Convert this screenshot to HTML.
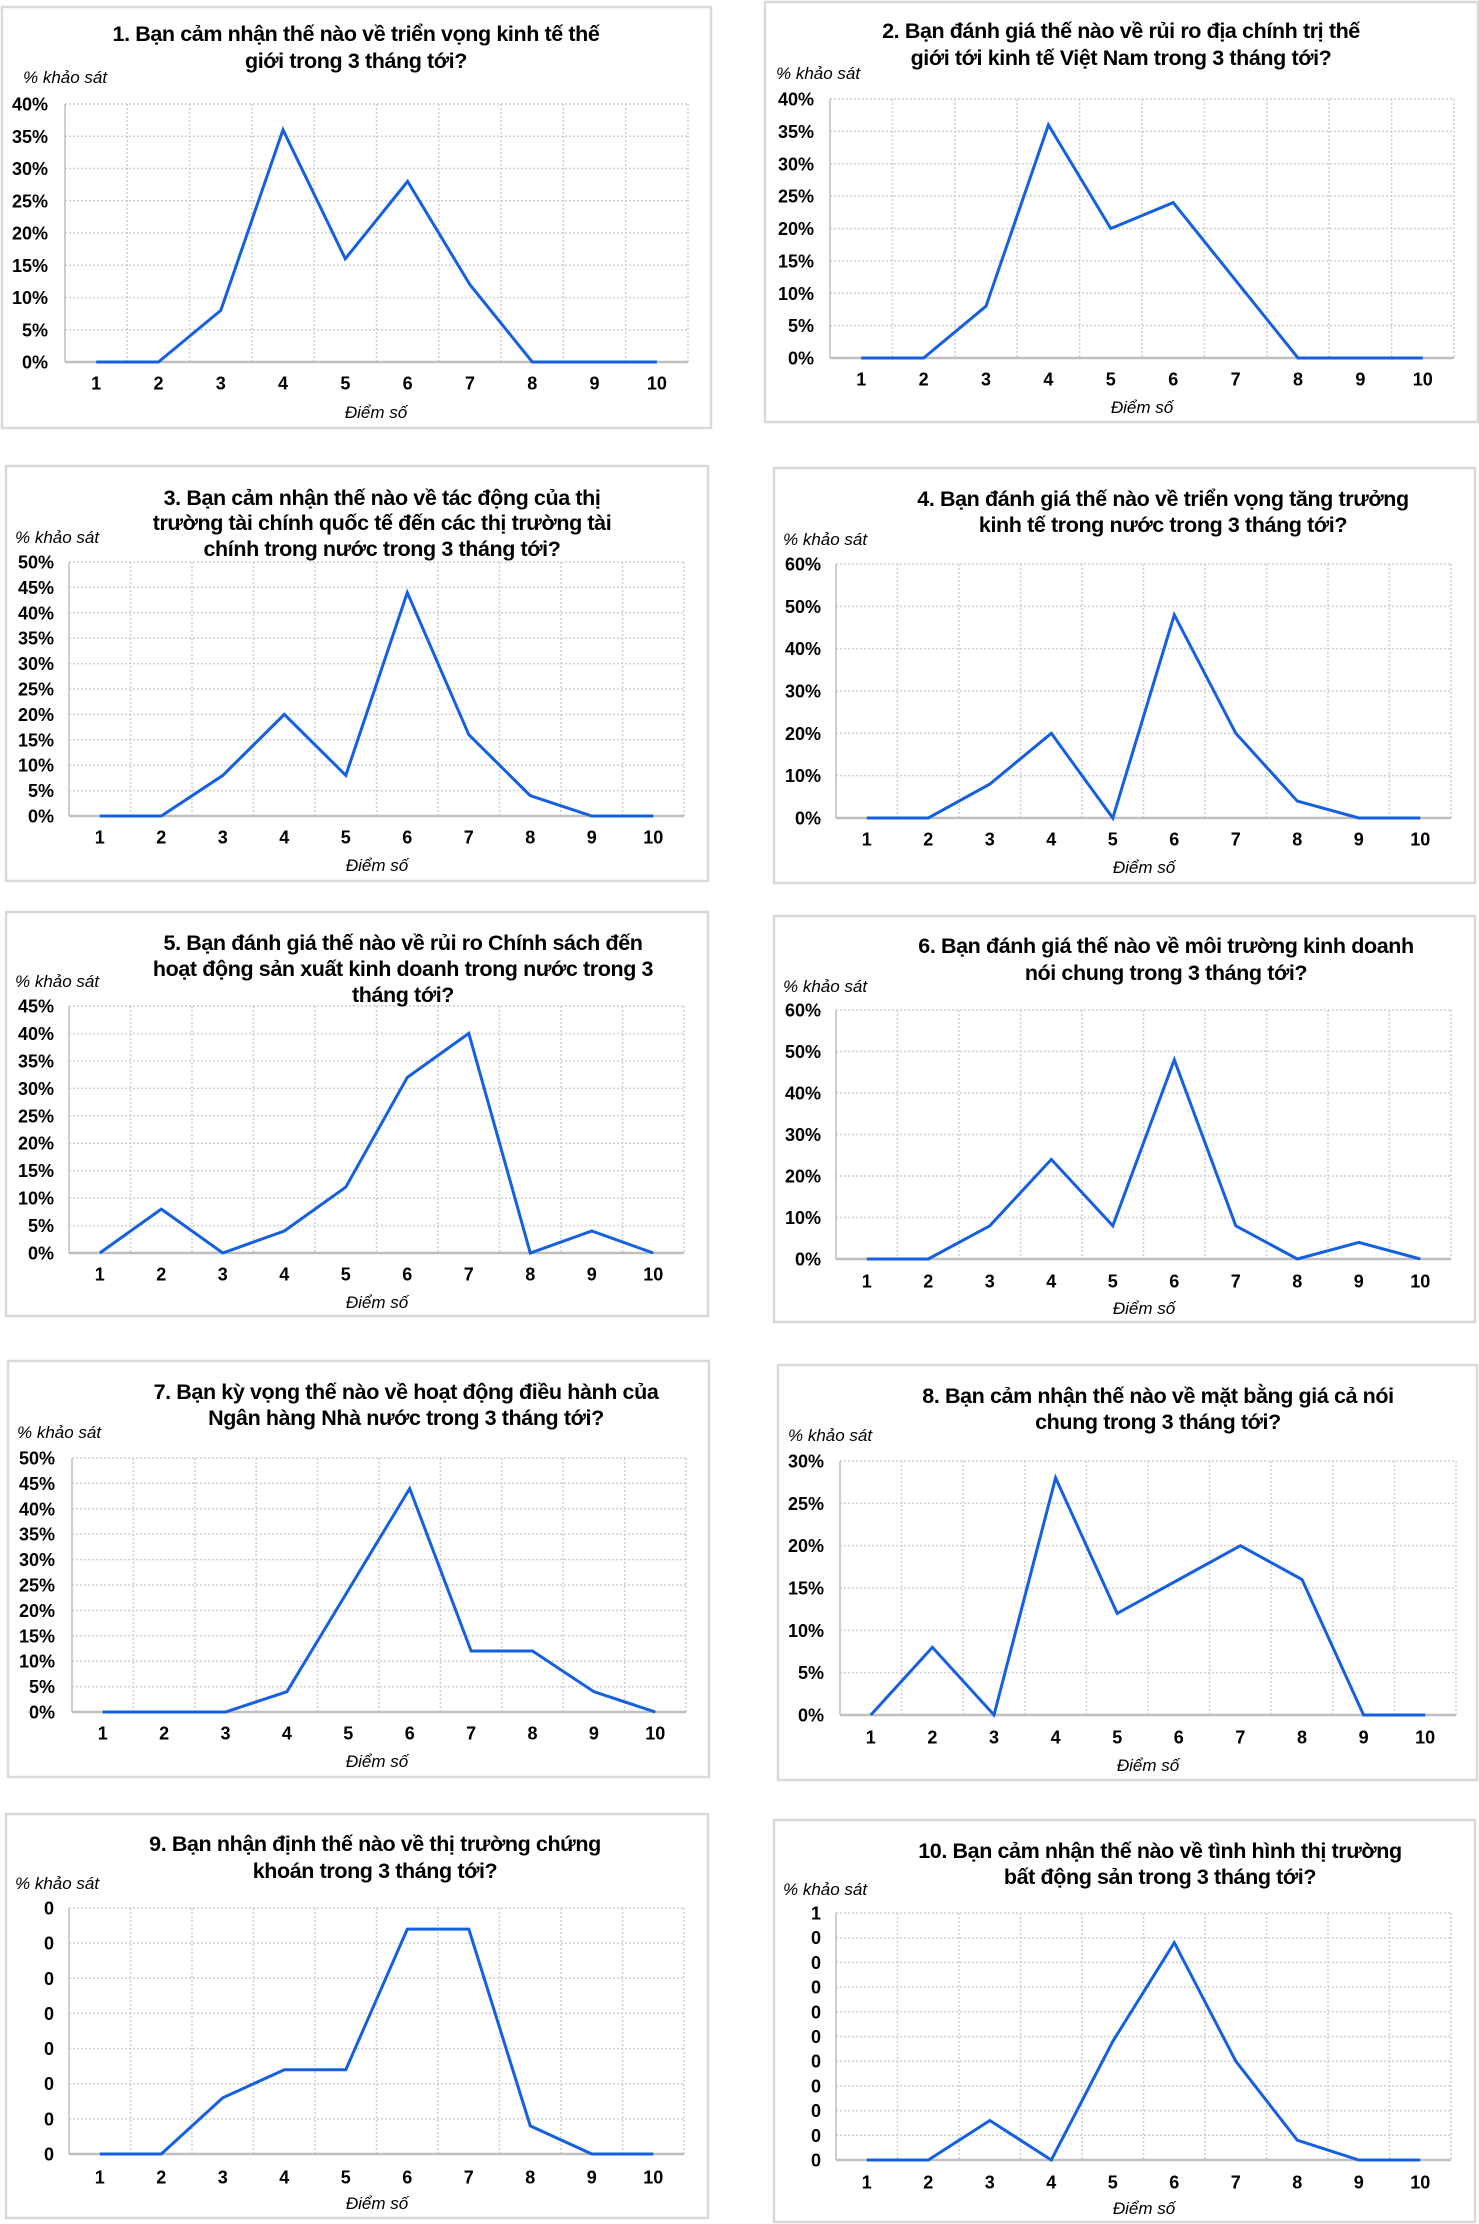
<!DOCTYPE html>
<html lang="vi">
<head>
<meta charset="utf-8">
<title>Khảo sát kỳ vọng - 10 biểu đồ</title>
<style>
  html,body{margin:0;padding:0;background:#fff;}
  svg{display:block;}
  text{font-family:"Liberation Sans", Arial, sans-serif;}
</style>
</head>
<body>
<svg id="root" xmlns="http://www.w3.org/2000/svg" width="1479" height="2224" viewBox="0 0 1479 2224"></svg>
<script>
// ---- Data (categories, series values, tick labels) ----
const categories = ['1','2','3','4','5','6','7','8','9','10'];

const c1Values = [0,0,8,36,16,28,12,0,0,0];
const c2Values = [0,0,8,36,20,24,12,0,0,0];
const c3Values = [0,0,8,20,8,44,16,4,0,0];
const c4Values = [0,0,8,20,0,48,20,4,0,0];
const c5Values = [0,8,0,4,12,32,40,0,4,0];
const c6Values = [0,0,8,24,8,48,8,0,4,0];
const c7Values = [0,0,0,4,24,44,12,12,4,0];
const c8Values = [0,8,0,28,12,16,20,16,0,0];
const c9Values = [0,0,8,12,12,32,32,4,0,0];
const c10Values = [0,0,8,0,24,44,20,4,0,0];

const c1Ticks = ['0%','5%','10%','15%','20%','25%','30%','35%','40%'];
const c2Ticks = ['0%','5%','10%','15%','20%','25%','30%','35%','40%'];
const c3Ticks = ['0%','5%','10%','15%','20%','25%','30%','35%','40%','45%','50%'];
const c4Ticks = ['0%','10%','20%','30%','40%','50%','60%'];
const c5Ticks = ['0%','5%','10%','15%','20%','25%','30%','35%','40%','45%'];
const c6Ticks = ['0%','10%','20%','30%','40%','50%','60%'];
const c7Ticks = ['0%','5%','10%','15%','20%','25%','30%','35%','40%','45%','50%'];
const c8Ticks = ['0%','5%','10%','15%','20%','25%','30%'];
const c9Ticks = ['0','0','0','0','0','0','0','0'];
const c10Ticks = ['0','0','0','0','0','0','0','0','0','0','1'];

const c1Max = 40, c2Max = 40, c3Max = 50, c4Max = 60, c5Max = 45;
const c6Max = 60, c7Max = 50, c8Max = 30, c9Max = 35, c10Max = 50;

const c1Title = ['1. Bạn cảm nhận thế nào về triển vọng kinh tế thế','giới trong 3 tháng tới?'];
const c2Title = ['2. Bạn đánh giá thế nào về rủi ro địa chính trị thế','giới tới kinh tế Việt Nam trong 3 tháng tới?'];
const c3Title = ['3. Bạn cảm nhận thế nào về tác động của thị','trường tài chính quốc tế đến các thị trường tài','chính trong nước trong 3 tháng tới?'];
const c4Title = ['4. Bạn đánh giá thế nào về triển vọng tăng trưởng','kinh tế trong nước trong 3 tháng tới?'];
const c5Title = ['5. Bạn đánh giá thế nào về rủi ro Chính sách đến','hoạt động sản xuất kinh doanh trong nước trong 3','tháng tới?'];
const c6Title = ['6. Bạn đánh giá thế nào về môi trường kinh doanh','nói chung trong 3 tháng tới?'];
const c7Title = ['7. Bạn kỳ vọng thế nào về hoạt động điều hành của','Ngân hàng Nhà nước trong 3 tháng tới?'];
const c8Title = ['8. Bạn cảm nhận thế nào về mặt bằng giá cả nói','chung trong 3 tháng tới?'];
const c9Title = ['9. Bạn nhận định thế nào về thị trường chứng','khoán trong 3 tháng tới?'];
const c10Title = ['10. Bạn cảm nhận thế nào về tình hình thị trường','bất động sản trong 3 tháng tới?'];

// ---- Layout (geometry only) ----
const charts = [
  {id:1, values:c1Values, ticks:c1Ticks, max:c1Max, title:c1Title,
   box:[2,7,709,421], plot:[65,104,688,362], tx:356, ty:[33,60], yl:[23,77], ylr:48, xly:383, axy:412, axx:376},
  {id:2, values:c2Values, ticks:c2Ticks, max:c2Max, title:c2Title,
   box:[765,2,713,420], plot:[830,99,1454,358], tx:1121, ty:[30,57], yl:[776,73], ylr:814, xly:379, axy:407, axx:1142},
  {id:3, values:c3Values, ticks:c3Ticks, max:c3Max, title:c3Title,
   box:[6,466,702,415], plot:[69,562,684,816], tx:382, ty:[497,522,548], yl:[15,537], ylr:54, xly:837, axy:865, axx:377},
  {id:4, values:c4Values, ticks:c4Ticks, max:c4Max, title:c4Title,
   box:[774,468,701,415], plot:[836,564,1451,818], tx:1163, ty:[498,524], yl:[783,539], ylr:821, xly:839, axy:867, axx:1144},
  {id:5, values:c5Values, ticks:c5Ticks, max:c5Max, title:c5Title,
   box:[6,912,702,404], plot:[69,1006,684,1253], tx:403, ty:[942,968,994], yl:[15,981], ylr:54, xly:1274, axy:1302, axx:377},
  {id:6, values:c6Values, ticks:c6Ticks, max:c6Max, title:c6Title,
   box:[774,916,701,406], plot:[836,1010,1451,1259], tx:1166, ty:[945,972], yl:[783,986], ylr:821, xly:1281, axy:1308, axx:1144},
  {id:7, values:c7Values, ticks:c7Ticks, max:c7Max, title:c7Title,
   box:[8,1361,701,416], plot:[72,1458,686,1712], tx:406, ty:[1391,1417], yl:[17,1432], ylr:55, xly:1733, axy:1761, axx:377},
  {id:8, values:c8Values, ticks:c8Ticks, max:c8Max, title:c8Title,
   box:[778,1365,699,415], plot:[840,1461,1456,1715], tx:1158, ty:[1395,1421], yl:[788,1435], ylr:824, xly:1737, axy:1765, axx:1148},
  {id:9, values:c9Values, ticks:c9Ticks, max:c9Max, title:c9Title,
   box:[6,1814,702,404], plot:[69,1908,684,2154], tx:375, ty:[1843,1870], yl:[15,1883], ylr:54, xly:2177, axy:2203, axx:377},
  {id:10, values:c10Values, ticks:c10Ticks, max:c10Max, title:c10Title,
   box:[774,1820,701,402], plot:[836,1913,1451,2160], tx:1160, ty:[1850,1876], yl:[783,1889], ylr:821, xly:2182, axy:2208, axx:1144}
];

const NS = 'http://www.w3.org/2000/svg';
const root = document.getElementById('root');
function mk(tag, parent){ const e = document.createElementNS(NS, tag); parent.appendChild(e); return e; }

charts.forEach(function(c){
  const g = mk('g', root);
  
  

  const [bx,by,bw,bh] = c.box;
  const box = mk('rect', g);
  
  
  box.setAttribute('x', bx); box.setAttribute('y', by);
  box.setAttribute('width', bw); box.setAttribute('height', bh);
  box.setAttribute('fill', '#fff'); box.setAttribute('stroke', '#d9d9d9'); box.setAttribute('stroke-width', '2.5');

  const [px0,py0,px1,py1] = c.plot;
  const n = categories.length;
  const band = (px1 - px0) / n;
  const xScale = function(i){ return px0 + band * (i + 0.5); };
  const yScale = function(v){ return py1 - (v / c.max) * (py1 - py0); };
  const nt = c.ticks.length - 1;

  // horizontal gridlines + y tick labels
  c.ticks.forEach(function(t, i){
    const v = c.max * i / nt;
    const y = yScale(v);
    if (i > 0) {
      const gl = mk('line', g);
      
      
      gl.setAttribute('x1', px0); gl.setAttribute('x2', px1);
      gl.setAttribute('y1', y); gl.setAttribute('y2', y);
      gl.setAttribute('stroke', '#cfcfcf'); gl.setAttribute('stroke-width', '1.5');
      gl.setAttribute('stroke-dasharray', '2,2');
    }
    const tl = mk('text', g);
    
    
    tl.setAttribute('x', c.ylr); tl.setAttribute('y', y + 6.5);
    tl.setAttribute('text-anchor', 'end'); tl.setAttribute('font-size', '18');
    tl.setAttribute('font-weight', 'bold'); tl.setAttribute('fill', '#000');
    tl.textContent = t;
  });

  // vertical gridlines at category boundaries
  for (let i = 1; i <= n; i++) {
    const x = px0 + band * i;
    const vl = mk('line', g);
    
    
    vl.setAttribute('x1', x); vl.setAttribute('x2', x);
    vl.setAttribute('y1', py0); vl.setAttribute('y2', py1);
    vl.setAttribute('stroke', '#cfcfcf'); vl.setAttribute('stroke-width', '1.5');
    vl.setAttribute('stroke-dasharray', '2,2');
  }

  // axes
  const ya = mk('line', g);
  
  
  ya.setAttribute('x1', px0); ya.setAttribute('x2', px0);
  ya.setAttribute('y1', py0); ya.setAttribute('y2', py1);
  ya.setAttribute('stroke', '#bfbfbf'); ya.setAttribute('stroke-width', '1.5');
  const xa = mk('line', g);
  
  
  xa.setAttribute('x1', px0); xa.setAttribute('x2', px1);
  xa.setAttribute('y1', py1); xa.setAttribute('y2', py1);
  xa.setAttribute('stroke', '#bfbfbf'); xa.setAttribute('stroke-width', '2.5');

  // x tick labels
  categories.forEach(function(cat, i){
    const xl = mk('text', g);
    
    
    xl.setAttribute('x', xScale(i)); xl.setAttribute('y', c.xly + 6.5);
    xl.setAttribute('text-anchor', 'middle'); xl.setAttribute('font-size', '18');
    xl.setAttribute('font-weight', 'bold'); xl.setAttribute('fill', '#000');
    xl.textContent = cat;
  });

  // series line
  const pts = c.values.map(function(v, i){ return xScale(i).toFixed(1) + ',' + yScale(v).toFixed(1); }).join(' ');
  const pl = mk('polyline', g);
  
  
  pl.setAttribute('points', pts);
  pl.setAttribute('fill', 'none'); pl.setAttribute('stroke', '#1560e0');
  pl.setAttribute('stroke-width', '3'); pl.setAttribute('stroke-linejoin', 'miter');

  // title
  c.title.forEach(function(line, i){
    const tt = mk('text', g);
    
    
    tt.setAttribute('x', c.tx); tt.setAttribute('y', c.ty[i] + 8);
    tt.setAttribute('text-anchor', 'middle'); tt.setAttribute('font-size', '21.5');
    tt.setAttribute('font-weight', 'bold'); tt.setAttribute('fill', '#000');
    tt.setAttribute('letter-spacing', '-0.4');
    tt.textContent = line;
  });

  // y axis title
  const yt = mk('text', g);
  
  
  yt.setAttribute('x', c.yl[0]); yt.setAttribute('y', c.yl[1] + 6);
  yt.setAttribute('font-size', '17'); yt.setAttribute('font-style', 'italic');
  yt.setAttribute('fill', '#000');
  yt.textContent = '% khảo sát';

  // x axis title
  const xt = mk('text', g);
  
  
  xt.setAttribute('x', c.axx); xt.setAttribute('y', c.axy + 6);
  xt.setAttribute('text-anchor', 'middle'); xt.setAttribute('font-size', '17');
  xt.setAttribute('font-style', 'italic'); xt.setAttribute('fill', '#000');
  xt.textContent = 'Điểm số';
});
</script>
</body>
</html>
